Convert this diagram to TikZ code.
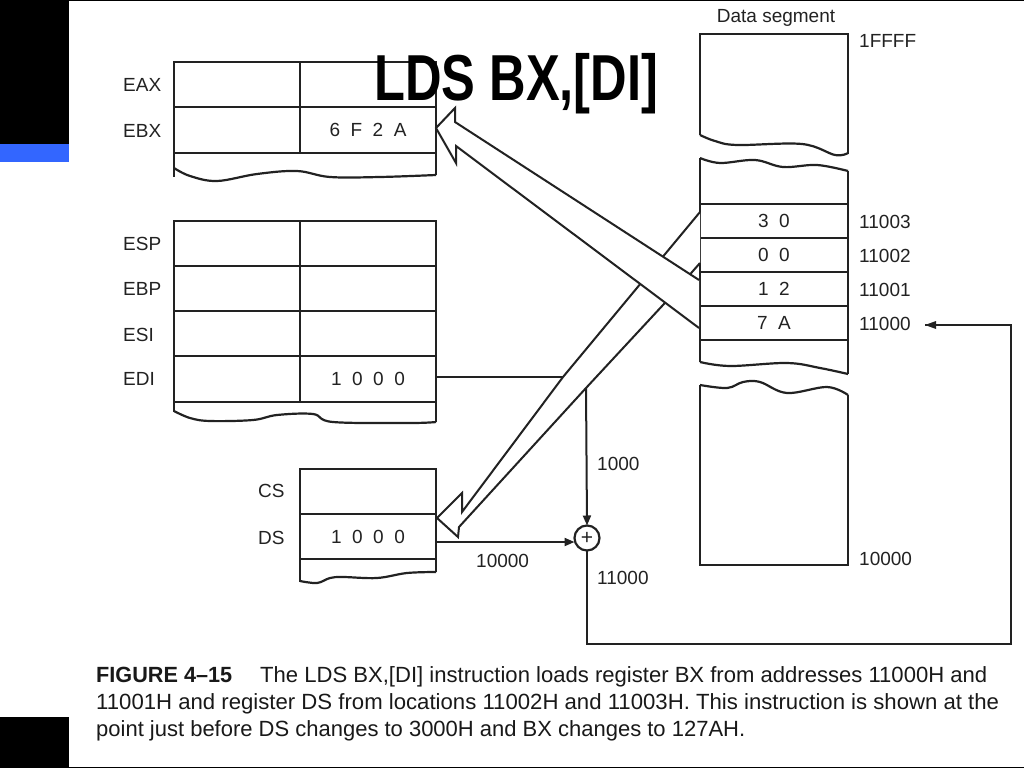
\documentclass[tikz,border=0pt]{standalone}
\usepackage{fontspec}
\usepackage{graphicx}
\setmainfont{Liberation Sans}
\usetikzlibrary{arrows.meta}
\definecolor{ink}{HTML}{222222}
\definecolor{slideblue}{HTML}{3366FF}
\newcommand{\fitw}[2]{\resizebox{#1}{\height}{#2}}
\newcommand{\cellfont}{\fontsize{19}{19}\selectfont}
\newcommand{\gapped}[1]{{\spaceskip=10.5pt\relax #1}}
\tikzset{
  x=1pt,y=-1pt,
  wire/.style={draw=ink,line width=2.2pt,line join=miter},
  conn/.style={draw=ink,line width=2pt,-{Triangle[length=10pt,width=8pt]}},
  plainconn/.style={draw=ink,line width=2pt},
  blockarrow/.style={draw=ink,line width=2pt,fill=white,line join=miter},
  cell/.style={draw=ink,line width=2.2pt,anchor=north west,inner sep=0pt,outer sep=0pt,text=ink,font=\cellfont},
  lbl/.style={text=ink,inner sep=0pt,font=\fontsize{19}{19}\selectfont,anchor=base west},
  captionline/.style={text=black!90,inner sep=0pt,font=\fontsize{22}{22}\selectfont,anchor=base west},
  adder/.style={circle,draw=ink,line width=2.2pt,fill=white,minimum size=25pt,inner sep=0pt,outer sep=0pt,
    text=ink,font=\fontsize{21}{21}\selectfont},
}
\begin{document}
\begin{tikzpicture}
\useasboundingbox (0,0) rectangle (1024,768);
\fill[white] (0,0) rectangle (1024,768);
% slide furniture
\fill[black] (0,0) rectangle (69,144);
\fill[slideblue] (0,144) rectangle (69,162);
\fill[black] (0,717) rectangle (69,768);
\fill[black] (69,0) rectangle (1024,1.2);
\fill[black] (69,766.5) rectangle (1024,768);

% register group 1
\node[cell,minimum width=126pt,minimum height=45pt] (eaxl) at (174,62) {};
\node[cell,minimum width=136pt,minimum height=45pt] (eaxr) at (300,62) {};
\node[cell,minimum width=126pt,minimum height=46pt] (ebxl) at (174,107) {};
\node[cell,minimum width=136pt,minimum height=46pt] (ebxr) at (300,107) {\gapped{6 F 2 A}};
\draw[wire] (ebxl.south west) -- (174,177);
\draw[wire] (ebxr.south east) -- (436,175);
\draw[wire] plot[smooth,tension=0.6] coordinates {(174,168) (190,176) (217,181) (257,174) (297,171) (330,177) (380,177) (436,175)};

% register group 2
\node[cell,minimum width=126pt,minimum height=45pt] (espl) at (174,221) {};
\node[cell,minimum width=136pt,minimum height=45pt] (espr) at (300,221) {};
\node[cell,minimum width=126pt,minimum height=45pt] (ebpl) at (174,266) {};
\node[cell,minimum width=136pt,minimum height=45pt] (ebpr) at (300,266) {};
\node[cell,minimum width=126pt,minimum height=45pt] (esil) at (174,311) {};
\node[cell,minimum width=136pt,minimum height=45pt] (esir) at (300,311) {};
\node[cell,minimum width=126pt,minimum height=46pt] (edil) at (174,356) {};
\node[cell,minimum width=136pt,minimum height=46pt] (edir) at (300,356) {\gapped{1 0 0 0}};
\draw[wire] (edil.south west) -- (174,412);
\draw[wire] (edir.south east) -- (436,422);
\draw[wire] plot[smooth,tension=0.6] coordinates {(174,411) (190,418) (210,421) (253,420) (277,415) (313,414) (333,422) (410,423) (436,422)};

% segment registers
\node[cell,minimum width=136pt,minimum height=45pt] (cs) at (300,469) {};
\node[cell,minimum width=136pt,minimum height=45pt] (ds) at (300,514) {\gapped{1 0 0 0}};
\draw[wire] (ds.south west) -- (300,582);
\draw[wire] (ds.south east) -- (436,572);
\draw[wire] plot[smooth,tension=0.6] coordinates {(300,581) (317,583) (330,578) (343,577) (377,578) (407,573) (436,572)};

% register labels
\node[lbl] (leax) at (123,91) {EAX};
\node[lbl] (lebx) at (123,137) {EBX};
\node[lbl] (lesp) at (123,250) {ESP};
\node[lbl] (lebp) at (123,295) {EBP};
\node[lbl] (lesi) at (123,341) {ESI};
\node[lbl] (ledi) at (123,385) {EDI};
\node[lbl] (lcs) at (258,497) {CS};
\node[lbl] (lds) at (258,544) {DS};

% data segment
\draw[wire] (700,135) -- (700,34) -- (848,34) -- (848,154);
\draw[wire] plot[smooth,tension=0.6] coordinates {(700,135) (715,141) (737,145) (802,144) (835,155) (848,153)};
\draw[wire] (700,204) -- (700,158);
\draw[wire] (848,204) -- (848,171);
\draw[wire] plot[smooth,tension=0.6] coordinates {(700,158) (720,163) (755,160) (783,167) (817,165) (848,171)};
\node[cell,minimum width=148pt,minimum height=34pt] (m3) at (700,204) {\gapped{3 0}};
\node[cell,minimum width=148pt,minimum height=34pt] (m2) at (700,238) {\gapped{0 0}};
\node[cell,minimum width=148pt,minimum height=34pt] (m1) at (700,272) {\gapped{1 2}};
\node[cell,minimum width=148pt,minimum height=34pt] (m0) at (700,306) {\gapped{7 A}};
\draw[wire] (m0.south west) -- (700,362);
\draw[wire] (m0.south east) -- (848,374);
\draw[wire] plot[smooth,tension=0.6] coordinates {(700,362) (730,366) (787,363) (820,368) (848,374)};
\draw[wire] plot[smooth,tension=0.6] coordinates {(700,385) (727,388) (743,382) (760,382) (787,393) (827,387) (848,395)};
\draw[wire] (700,385) -- (700,565) -- (848,565) -- (848,395);

\node[lbl,anchor=base] (dseg) at (776,23) {Data segment};
\node[lbl] (a1) at (859,48) {1FFFF};
\node[lbl] (a2) at (859,228) {11003};
\node[lbl] (a3) at (859,262) {11002};
\node[lbl] (a4) at (859,296) {11001};
\node[lbl] (a5) at (859,330) {11000};
\node[lbl] (a6) at (859,565) {10000};

% adder and connectors
\node[adder] (plus) at (587,538) {+};
\coordinate (ediout) at (436,377);
\coordinate (edihit) at (563,377);
\coordinate (addrtap) at (586,388);
\coordinate (dsout) at (436,542);
\coordinate (corner1) at (1011,325);
\coordinate (corner2) at (1011,644);
\coordinate (corner3) at (587,644);
\coordinate (memin) at (925,325);
\draw[plainconn] (ediout) -- (edihit);
\draw[conn] (addrtap) -- (plus.north);
\draw[conn] (dsout) -- (plus.west |- dsout);
\draw[plainconn] (plus.south) -- (corner3) -- (corner2) -- (corner1) -- (memin);
\fill[ink] (memin) -- ++(11,-4) -- ++(0,8) -- cycle;
\node[lbl] (l1000) at (597,470) {1000};
\node[lbl] (l10000) at (476,567) {10000};
\node[lbl] (l11000) at (597,584) {11000};

% block arrow to DS
\coordinate (dstip) at (437,518);
\filldraw[blockarrow] (700,212) -- (563,377) -- (462,512) -- (462,493) -- (dstip) -- (458,537) -- (459,527) -- (586,388) -- (663,305) -- (700,263);
% block arrow to EBX
\coordinate (bxtip) at (436,128);
\filldraw[blockarrow] (699,280) -- (455,122) -- (455,108) -- (bxtip) -- (456,163) -- (456,146) -- (699,328);

% title
\node[text=black,inner sep=0pt,anchor=base west,font=\fontsize{65}{65}\selectfont\bfseries] (title) at (374,100) {\fitw{284pt}{LDS BX,[DI]}};

% caption
\node[captionline] (c0) at (96,682) {\fitw{136pt}{\bfseries FIGURE 4–15}};
\node[captionline] (c1) at (260,682) {\fitw{727pt}{The LDS BX,[DI] instruction loads register BX from addresses 11000H and}};
\node[captionline] (c2) at (96,709) {\fitw{903pt}{11001H and register DS from locations 11002H and 11003H. This instruction is shown at the}};
\node[captionline] (c3) at (96,736) {\fitw{649pt}{point just before DS changes to 3000H and BX changes to 127AH.}};
\end{tikzpicture}
\end{document}
